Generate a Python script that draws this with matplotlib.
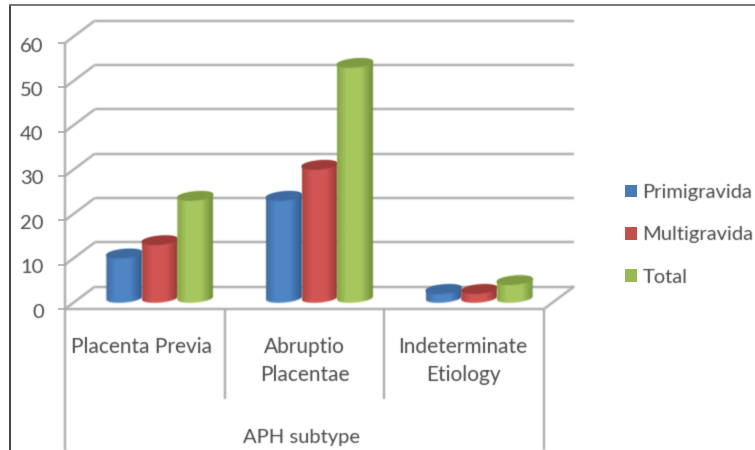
import numpy as np
import matplotlib
matplotlib.use("Agg")
import matplotlib.pyplot as plt
from matplotlib.patches import Patch, Polygon
from matplotlib.lines import Line2D
from matplotlib.transforms import ScaledTranslation

categories = ["Placenta Previa", "Abruptio\nPlacentae", "Indeterminate\nEtiology"]
series_names = ["Primigravida", "Multigravida", "Total"]
primigravida = [10, 23, 2]
multigravida = [13, 30, 2]
total = [23, 53, 4]
y_ticks = [0, 10, 20, 30, 40, 50, 60]
x_title = "APH subtype"

W, H = 755, 450
L, R, B, T = 65, 544, 309, 43
TXT = "#4a4a4a"
AX = "#ababab"
plt.rcParams["font.family"] = ["Lato", "DejaVu Sans"]


def blur(sigma):
    r = int(np.ceil(3 * sigma))
    k = np.exp(-0.5 * (np.arange(-r, r + 1) / sigma) ** 2)
    k /= k.sum()

    def f(img, dpi):
        a = np.pad(img, ((r, r), (r, r), (0, 0)))
        a = a.astype(float)
        al = a[..., 3:].copy()
        p = np.concatenate([a[..., :3] * al, al], axis=2)
        for ax_i in (0, 1):
            p = np.apply_along_axis(lambda m: np.convolve(m, k, mode="same"), ax_i, p)
        o = p.copy()
        o[..., :3] = np.where(p[..., 3:] > 1e-4, p[..., :3] / np.maximum(p[..., 3:], 1e-4), 0)
        return np.clip(o, 0, 1), -r, -r
    return f


soft = blur(0.7)
fig = plt.figure(figsize=(W / 100, H / 100), dpi=100, facecolor="white")
ax = fig.add_axes([L / W, 1 - B / H, (R - L) / W, (B - T) / H])
ax.set_xlim(0, 3)
ax.set_ylim(0, 60)
PX = 3 / (R - L)
PY = 60 / (B - T)
for s in ax.spines.values():
    s.set_visible(False)
ax.patch.set_alpha(0)


def pline(xs, ys, color=AX, lw=1.7, z=1):
    ln = ax.plot(xs, ys, color=color, lw=lw, clip_on=False, zorder=z,
                 solid_capstyle="butt")[0]
    ln.set_agg_filter(soft)
    return ln


# wall, floor and axes
DX, DY = 30 * PX, 22.5 * PY
for v in y_ticks:
    pline([DX, 3 + DX], [v + DY, v + DY])
    pline([0, DX], [v, v + DY])
pline([0, 3], [0, 0], z=1.5)
pline([3, 3 + DX], [0, DY], z=1.5)
bottom_y = (B - H) * PY
pline([0, 0], [bottom_y, 60], z=1.5)
pline([3, 3], [bottom_y, 0], z=1.5)
for c in (1, 2):
    pline([c, c], [-90 * PY, 0], z=1.5)

# cylinders
colors = {
    0: ("#3f6ca5", "#4f86c6", "#31598c", "#3f6a9f"),
    1: ("#ab4340", "#d25653", "#973835", "#9c3c39"),
    2: ("#86a646", "#a7c75f", "#728f39", "#7e9b42"),
}


def hex_rgb(c):
    return np.array(matplotlib.colors.to_rgb(c))


def cylinder(xc, v, idx, z):
    a, b, tilt = 18 * PX, 4.6 * PY, 1.5 * PY
    y0 = 11 * PY
    y1 = y0 + v
    t_low = np.linspace(np.pi, 2 * np.pi, 60)
    t_up = np.linspace(0, np.pi, 60)
    low_x = xc + a * np.cos(t_low)
    low_y = y0 + b * np.sin(t_low) + tilt * np.cos(t_low)
    up_x = xc + a * np.cos(t_up)
    up_y = y1 + b * np.sin(t_up) + tilt * np.cos(t_up)
    body = Polygon(np.column_stack([np.r_[low_x, up_x], np.r_[low_y, up_y]]),
                   closed=True, transform=ax.transData, fc="none", ec="none")
    ax.add_patch(body)
    left, mid, right, cap = colors[idx]
    u = np.linspace(0, 1, 64)[:, None]
    c_l, c_m, c_r = hex_rgb(left), hex_rgb(mid), hex_rgb(right)
    w = np.where(u < 0.45, u / 0.45, (1 - u) / 0.55)
    w = np.clip(w * 1.7, 0, 1)
    base = np.where(u < 0.45, c_l[None, :], c_r[None, :])
    grad = (base * (1 - w) + c_m[None, :] * w)[None, :, :]
    im = ax.imshow(grad, extent=[xc - a, xc + a, y0 - b - tilt, y1 + b + tilt],
                   aspect="auto", zorder=z, interpolation="bilinear", clip_on=True)
    im.set_clip_path(body)
    t = np.linspace(0, 2 * np.pi, 90)
    cap_xy = np.column_stack([xc + a * np.cos(t), y1 + b * np.sin(t) + tilt * np.cos(t)])
    top = Polygon(cap_xy, closed=True, fc=cap, ec="none", zorder=z + 0.1, clip_on=False)
    ax.add_patch(top)
    im.set_agg_filter(soft)
    top.set_agg_filter(soft)


all_series = [primigravida, multigravida, total]
for ci in range(len(categories)):
    for si, vals in enumerate(all_series):
        xc = ci + 0.5 + (15 + (si - 1) * 35.5) * PX
        cylinder(xc, vals[ci], si, 3 + ci + si * 0.2)
ax.set_xlim(0, 3)
ax.set_ylim(0, 60)

# ticks and labels
ax.set_yticks(y_ticks)
ax.set_yticklabels([str(v) for v in y_ticks], fontsize=14.5, color=TXT)
ax.tick_params(axis="y", length=5, width=1.2, color=AX, pad=10)
ax.set_xticks([0.5, 1.5, 2.5])
ax.set_xticklabels(categories, fontsize=15, color=TXT, linespacing=1.48)
ax.tick_params(axis="x", length=0, pad=20.5)
ax.set_xlabel(x_title, fontsize=14.5, color=TXT, va="center")
ax.xaxis.set_label_coords(0.493, (B - 438) / (B - T))


def nudge(t, dx_px, dy_px):
    t.set_transform(t.get_transform() + ScaledTranslation(dx_px / 100, dy_px / 100, fig.dpi_scale_trans))


for t in ax.get_yticklabels():
    nudge(t, -0.5, -1.5)
for t, dx in zip(ax.get_xticklabels(), (-3, 0, -1)):
    nudge(t, dx, 0)
for t in ax.get_xticklabels() + ax.get_yticklabels() + [ax.xaxis.label]:
    t.set_agg_filter(blur(0.55))

# legend
handles = [Patch(fc=hex_rgb(c[1]) * 0.92, ec="none") for c in colors.values()]
leg = ax.legend(handles, series_names, loc="upper left", frameon=False,
                bbox_to_anchor=((624.5 - L) / (R - L), (B - 184) / (B - T)),
                borderaxespad=0, borderpad=0, fontsize=14.5, labelcolor=TXT,
                handlelength=0.6, handleheight=0.6, handletextpad=0.3,
                labelspacing=1.26)
for t in leg.get_texts():
    t.set_agg_filter(blur(0.55))

# picture border
fig.add_artist(Line2D([10 / W, 10 / W], [0, 1 - 5 / H], color="#222222", lw=1.2))
fig.add_artist(Line2D([10 / W, 1], [1 - 5 / H, 1 - 5 / H], color="#777777", lw=1.4))

fig.savefig("out.png", dpi=100, facecolor="white")
